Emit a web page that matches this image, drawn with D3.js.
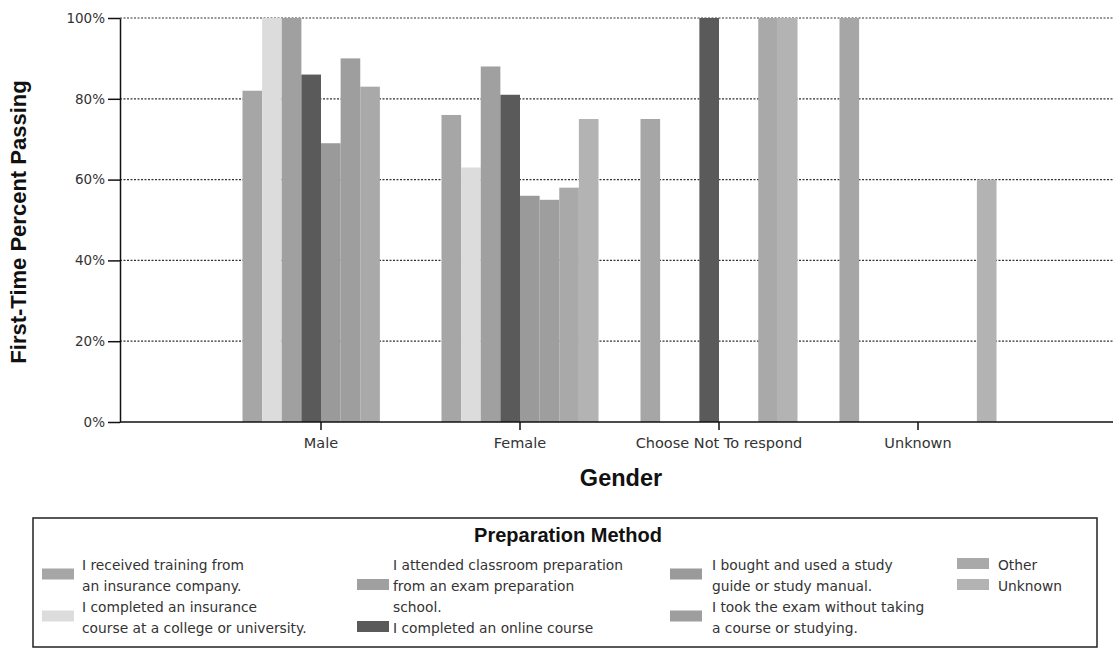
<!DOCTYPE html>
<html>
<head>
<meta charset="utf-8">
<script src="https://cdn.jsdelivr.net/npm/d3@7"></script>
<style>
  html, body { margin: 0; padding: 0; background: #ffffff; }
  svg { display: block; }
</style>
</head>
<body>
<svg id="chart" width="1113" height="650"></svg>
<script>
// ---------------- DATA ----------------
const genders = ["Male", "Female", "Choose Not To respond", "Unknown"];
const methods = [
  "I received training from an insurance company.",
  "I completed an insurance course at a college or university.",
  "I attended classroom preparation from an exam preparation school.",
  "I completed an online course",
  "I bought and used a study guide or study manual.",
  "I took the exam without taking a course or studying.",
  "Other",
  "Unknown"
];
// legend label lines (as wrapped in the reference)
const methodLines = [
  ["I received training from", "an insurance company."],
  ["I completed an insurance", "course at a college or university."],
  ["I attended classroom preparation", "from an exam preparation", "school."],
  ["I completed an online course"],
  ["I bought and used a study", "guide or study manual."],
  ["I took the exam without taking", "a course or studying."],
  ["Other"],
  ["Unknown"]
];
// first-time percent passing, one array per gender, in method order (null = no bar)
const maleValues    = [0.82, 1.00, 1.00, 0.86, 0.69, 0.90, 0.83, null];
const femaleValues  = [0.76, 0.63, 0.88, 0.81, 0.56, 0.55, 0.58, 0.75];
const chooseValues  = [0.75, null, null, 1.00, null, null, 1.00, 1.00];
const unknownValues = [1.00, null, null, null, null, null, null, 0.60];
const yTicks = [0, 0.2, 0.4, 0.6, 0.8, 1.0];

const xTitle = "Gender";
const yTitle = "First-Time Percent Passing";
const legendTitle = "Preparation Method";

// ---------------- STYLE ----------------
const colors = ["#a6a6a6", "#dcdcdc", "#a0a0a0", "#5a5a5a", "#9a9a9a", "#9e9e9e", "#a9a9a9", "#b3b3b3"];
const valuesByGender = [maleValues, femaleValues, chooseValues, unknownValues];

const svg = d3.select("#chart");
const plotLeft = 120, plotRight = 1113, plotTop = 18, plotBottom = 422;

const y = d3.scaleLinear().domain([0, 1]).range([plotBottom, plotTop]);
const step = 199;
const x0 = d3.scaleBand().domain(genders)
  .range([321 - step / 2, 321 - step / 2 + step * genders.length])
  .paddingInner(0.211).paddingOuter(0.1055);
const x1 = d3.scaleBand().domain(d3.range(methods.length)).range([0, x0.bandwidth()]).padding(0);
const color = d3.scaleOrdinal().domain(d3.range(methods.length)).range(colors);

// gridlines
svg.append("g").selectAll("line").data(yTicks.filter(d => d > 0)).join("line")
  .attr("x1", plotLeft).attr("x2", plotRight)
  .attr("y1", d => y(d)).attr("y2", d => y(d))
  .attr("stroke", "#333").attr("stroke-width", 1.2).attr("stroke-dasharray", "2,1.5");

// bars
const groups = svg.append("g").selectAll("g").data(genders).join("g")
  .attr("transform", d => `translate(${x0(d)},0)`);
groups.selectAll("rect")
  .data((g, gi) => valuesByGender[gi].map((v, i) => ({ i, v })).filter(d => d.v != null))
  .join("rect")
  .attr("x", d => x1(d.i))
  .attr("width", x1.bandwidth())
  .attr("y", d => y(d.v))
  .attr("height", d => y(0) - y(d.v))
  .attr("fill", d => color(d.i));

// y axis
const yAxis = svg.append("g").attr("transform", `translate(${plotLeft},0)`)
  .call(d3.axisLeft(y).tickValues(yTicks).tickFormat(d3.format(".0%")).tickSize(12).tickSizeOuter(0));
yAxis.select(".domain").attr("stroke", "#111").attr("stroke-width", 1.5);
yAxis.selectAll(".tick line").attr("stroke", "#111").attr("stroke-width", 1.5);
yAxis.selectAll(".tick text").attr("font-family", "DejaVu Sans, sans-serif").attr("font-size", 13.5)
  .attr("fill", "#333").attr("x", -15);

// x axis
const xAxis = svg.append("g").attr("transform", `translate(0,${plotBottom})`)
  .call(d3.axisBottom(x0).tickSize(8).tickSizeOuter(0));
xAxis.select(".domain").remove();
xAxis.selectAll(".tick line").attr("stroke", "#111").attr("stroke-width", 1.5);
xAxis.selectAll(".tick text").attr("font-family", "DejaVu Sans, sans-serif").attr("font-size", 14.5)
  .attr("fill", "#333").attr("dy", "1.05em");
svg.append("line").attr("x1", plotLeft).attr("x2", plotRight)
  .attr("y1", plotBottom).attr("y2", plotBottom).attr("stroke", "#111").attr("stroke-width", 1.5);

// axis titles
svg.append("text").attr("x", 621).attr("y", 486).attr("text-anchor", "middle")
  .attr("font-family", "Liberation Sans, Arial, sans-serif").attr("font-weight", "bold")
  .attr("font-size", 23.5).attr("fill", "#111").text(xTitle);
svg.append("text").attr("transform", "translate(26,222) rotate(-90)").attr("text-anchor", "middle")
  .attr("font-family", "Liberation Sans, Arial, sans-serif").attr("font-weight", "bold")
  .attr("font-size", 22).attr("fill", "#111").text(yTitle);

// legend
const lg = svg.append("g");
lg.append("rect").attr("x", 33).attr("y", 518).attr("width", 1064).attr("height", 129)
  .attr("fill", "none").attr("stroke", "#222").attr("stroke-width", 1.5);
lg.append("text").attr("x", 568).attr("y", 542).attr("text-anchor", "middle")
  .attr("font-family", "Liberation Sans, Arial, sans-serif").attr("font-weight", "bold")
  .attr("font-size", 20).attr("fill", "#111").text(legendTitle);

const colX = [[42, 82], [357, 393], [670, 712], [957, 998]];
const perCol = [[0, 1], [2, 3], [4, 5], [6, 7]];
const lineH = 21, firstLine = 565;
perCol.forEach((items, c) => {
  let line = 0;
  items.forEach(i => {
    const lines = methodLines[i];
    const startY = firstLine + line * lineH;
    const centerY = startY + (lines.length - 1) * lineH / 2;
    lg.append("rect").attr("x", colX[c][0]).attr("y", centerY - 7).attr("width", 32).attr("height", 11)
      .attr("fill", color(i));
    lines.forEach((t, k) => {
      lg.append("text").attr("x", colX[c][1]).attr("y", startY + k * lineH).attr("dy", "0.35em")
        .attr("font-family", "DejaVu Sans, sans-serif").attr("font-size", 13.8).attr("fill", "#333").text(t);
    });
    line += lines.length;
  });
});
</script>
</body>
</html>
